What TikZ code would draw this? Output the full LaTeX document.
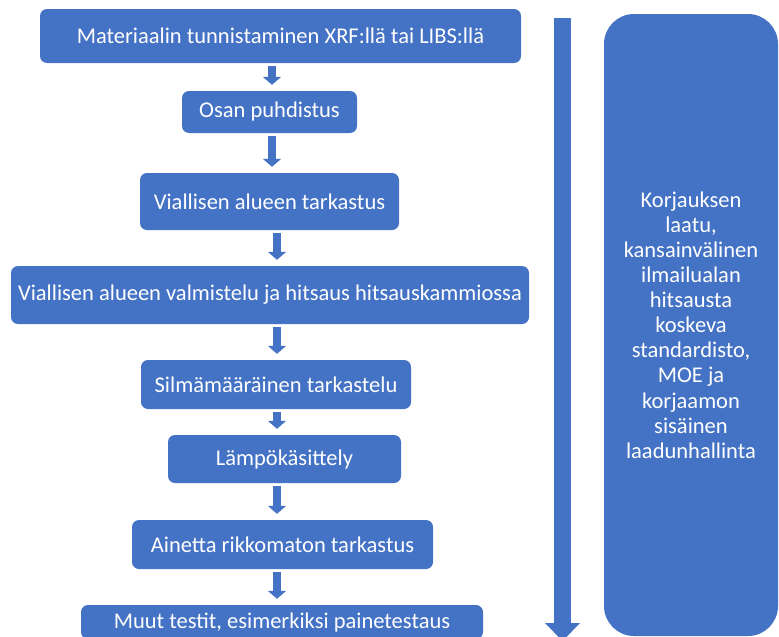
\documentclass[tikz,border=0pt]{standalone}
\usepackage{fontspec}
\setmainfont{Carlito}
\usetikzlibrary{arrows.meta}
\definecolor{boxblue}{HTML}{4472C4}
\tikzset{
  stepbox/.style={fill=boxblue, text=white, rounded corners=7pt, inner sep=0pt},
  flow/.style={draw=boxblue, line width=8pt, shorten <=3pt, shorten >=6pt,
    -{Triangle[width=18pt,length=8pt]}},
}

\begin{document}
\begin{tikzpicture}[x=1pt, y=-1pt, font=\fontsize{22.5}{25.1}\selectfont]
  \useasboundingbox (0,0) rectangle (779,637);

  \node[stepbox, minimum width=481pt, minimum height=54pt] (mat) at (280.5,36) {Materiaalin tunnistaminen XRF:llä tai LIBS:llä};
  \node[stepbox, minimum width=175pt, minimum height=42pt] (clean) at (269.5,112) {Osan puhdistus};
  \node[stepbox, minimum width=259pt, minimum height=57pt] (inspect) at (269.5,201.5) {Viallisen alueen tarkastus};
  \node[stepbox, minimum width=518pt, minimum height=58pt] (weld) at (270,295) {Viallisen alueen valmistelu ja hitsaus hitsauskammiossa};
  \node[stepbox, minimum width=270pt, minimum height=49pt] (visual) at (276,384.5) {Silmämääräinen tarkastelu};
  \node[stepbox, minimum width=233pt, minimum height=48pt] (heat) at (284.5,459) {Lämpökäsittely};
  \node[stepbox, minimum width=301pt, minimum height=49pt] (ndt) at (282.5,544.5) {Ainetta rikkomaton tarkastus};
  \node[stepbox, minimum width=402pt, minimum height=34pt] (other) at (282,622) {Muut testit, esimerkiksi painetestaus};

  \coordinate (colA) at (272,0);
  \coordinate (colB) at (277,0);
  \draw[flow] (mat.south -| colA) -- (clean.north -| colA);
  \draw[flow] (clean.south -| colA) -- (inspect.north -| colA);
  \draw[flow] (inspect.south -| colB) -- (weld.north -| colB);
  \draw[flow] (weld.south -| colB) -- (visual.north -| colB);
  \draw[flow] (visual.south -| colB) -- (heat.north -| colB);
  \draw[flow] (heat.south -| colB) -- (ndt.north -| colB);
  \draw[flow] (ndt.south -| colB) -- (other.north -| colB);

  \coordinate (start) at (562.5,18);
  \coordinate (end) at (562.5,641);
  \draw[draw=boxblue, line width=17pt, -{Triangle[width=34pt,length=18pt]}] (start) -- (end);

  \node[stepbox, rounded corners=30pt, minimum width=174pt, minimum height=622pt, align=center] (quality) at (691,325)
    {Korjauksen\\laatu,\\kansainvälinen\\ilmailualan\\hitsausta\\koskeva\\standardisto,\\MOE ja\\korjaamon\\sisäinen\\laadunhallinta};
\end{tikzpicture}
\end{document}
